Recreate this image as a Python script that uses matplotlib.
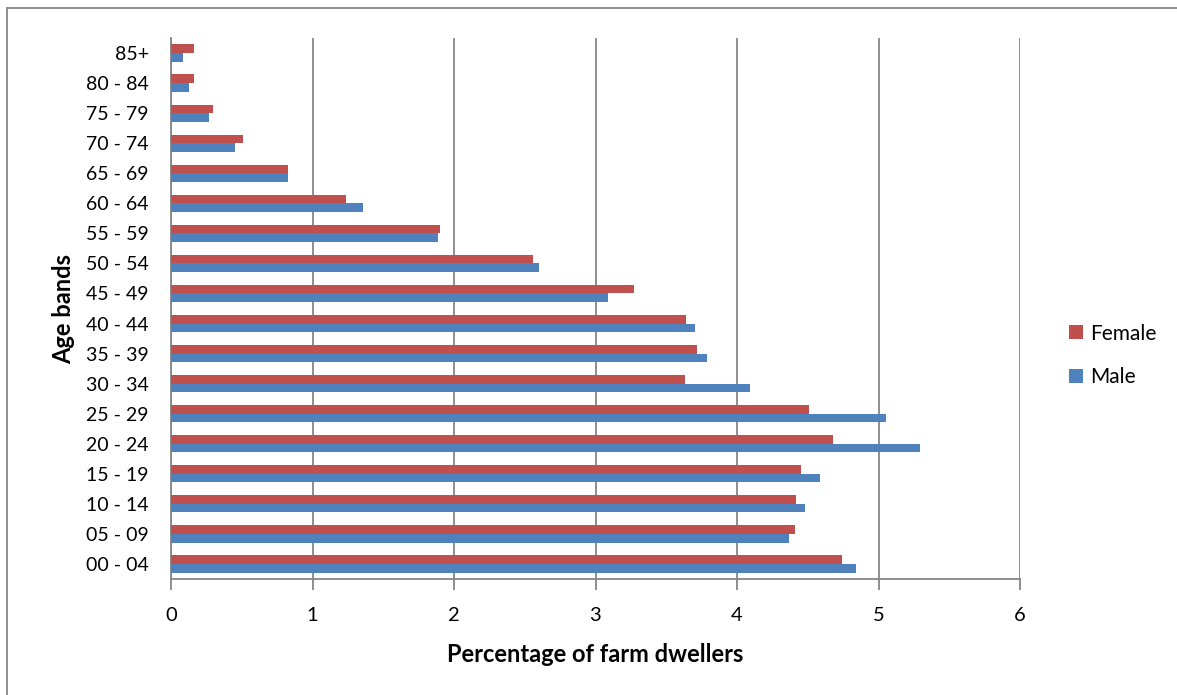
import numpy as np
import matplotlib.pyplot as plt
from matplotlib.patches import Rectangle

plt.rcParams['font.family'] = ['Lato', 'DejaVu Sans']

# Age bands, youngest first (drawn from the bottom up)
age_bands = ['00 - 04', '05 - 09', '10 - 14', '15 - 19', '20 - 24', '25 - 29',
             '30 - 34', '35 - 39', '40 - 44', '45 - 49', '50 - 54', '55 - 59',
             '60 - 64', '65 - 69', '70 - 74', '75 - 79', '80 - 84', '85+']

# Percentage of farm dwellers in each band
male = [4.84, 4.37, 4.48, 4.59, 5.29, 5.05, 4.09, 3.79, 3.70, 3.09,
        2.60, 1.89, 1.355, 0.83, 0.455, 0.27, 0.13, 0.085]
female = [4.74, 4.41, 4.42, 4.45, 4.68, 4.51, 3.63, 3.72, 3.64, 3.27,
          2.56, 1.90, 1.237, 0.83, 0.51, 0.30, 0.16, 0.165]

male_color = '#4F81BD'
female_color = '#C0504D'
grid_color = '#868686'

W, H = 1177, 695
fig = plt.figure(figsize=(W / 100, H / 100), dpi=100)
ax = fig.add_axes([171 / W, 1 - 579 / H, (1020 - 171) / W, (579 - 38) / H])

y = np.arange(len(age_bands))
h = 1 / 3.5  # 150% gap between groups
ax.barh(y - h / 2, male, height=h, color=male_color, label='Male', zorder=3)
ax.barh(y + h / 2, female, height=h, color=female_color, label='Female', zorder=3)

ax.set_xlim(0, 6)
ax.set_ylim(-0.5, len(age_bands) - 0.5)
ax.set_xticks(range(7))
ax.set_yticks(y)
ax.set_yticklabels(age_bands)
ax.tick_params(axis='x', labelsize=14.5, length=8, color=grid_color, width=1.3, pad=12)
ax.tick_params(axis='y', labelsize=14, length=0, pad=16)
ax.grid(axis='x', color=grid_color, linewidth=1.3, zorder=0)

for side in ['top', 'right']:
    ax.spines[side].set_visible(False)
for side in ['left', 'bottom']:
    ax.spines[side].set_color(grid_color)
    ax.spines[side].set_linewidth(1.3)

ax.set_xlabel('Percentage of farm dwellers', fontsize=17, fontweight='bold', labelpad=14)
ax.set_ylabel('Age bands', fontsize=17, fontweight='bold', labelpad=8)

handles, labels = ax.get_legend_handles_labels()
fig.legend(handles[::-1], labels[::-1], loc='center left',
           bbox_to_anchor=(1069 / W, 1 - 355.5 / H), bbox_transform=fig.transFigure,
           frameon=False, fontsize=15, borderpad=0, borderaxespad=0,
           handlelength=0.68, handleheight=0.68, handletextpad=0.35, labelspacing=1.15)

# chart area border
fig.patches.append(Rectangle((7 / W, -0.1), 1.1, 1 - 8 / H + 0.1,
                             transform=fig.transFigure, fill=False,
                             edgecolor=grid_color, linewidth=1.3))

fig.savefig('out.png', dpi=100)
